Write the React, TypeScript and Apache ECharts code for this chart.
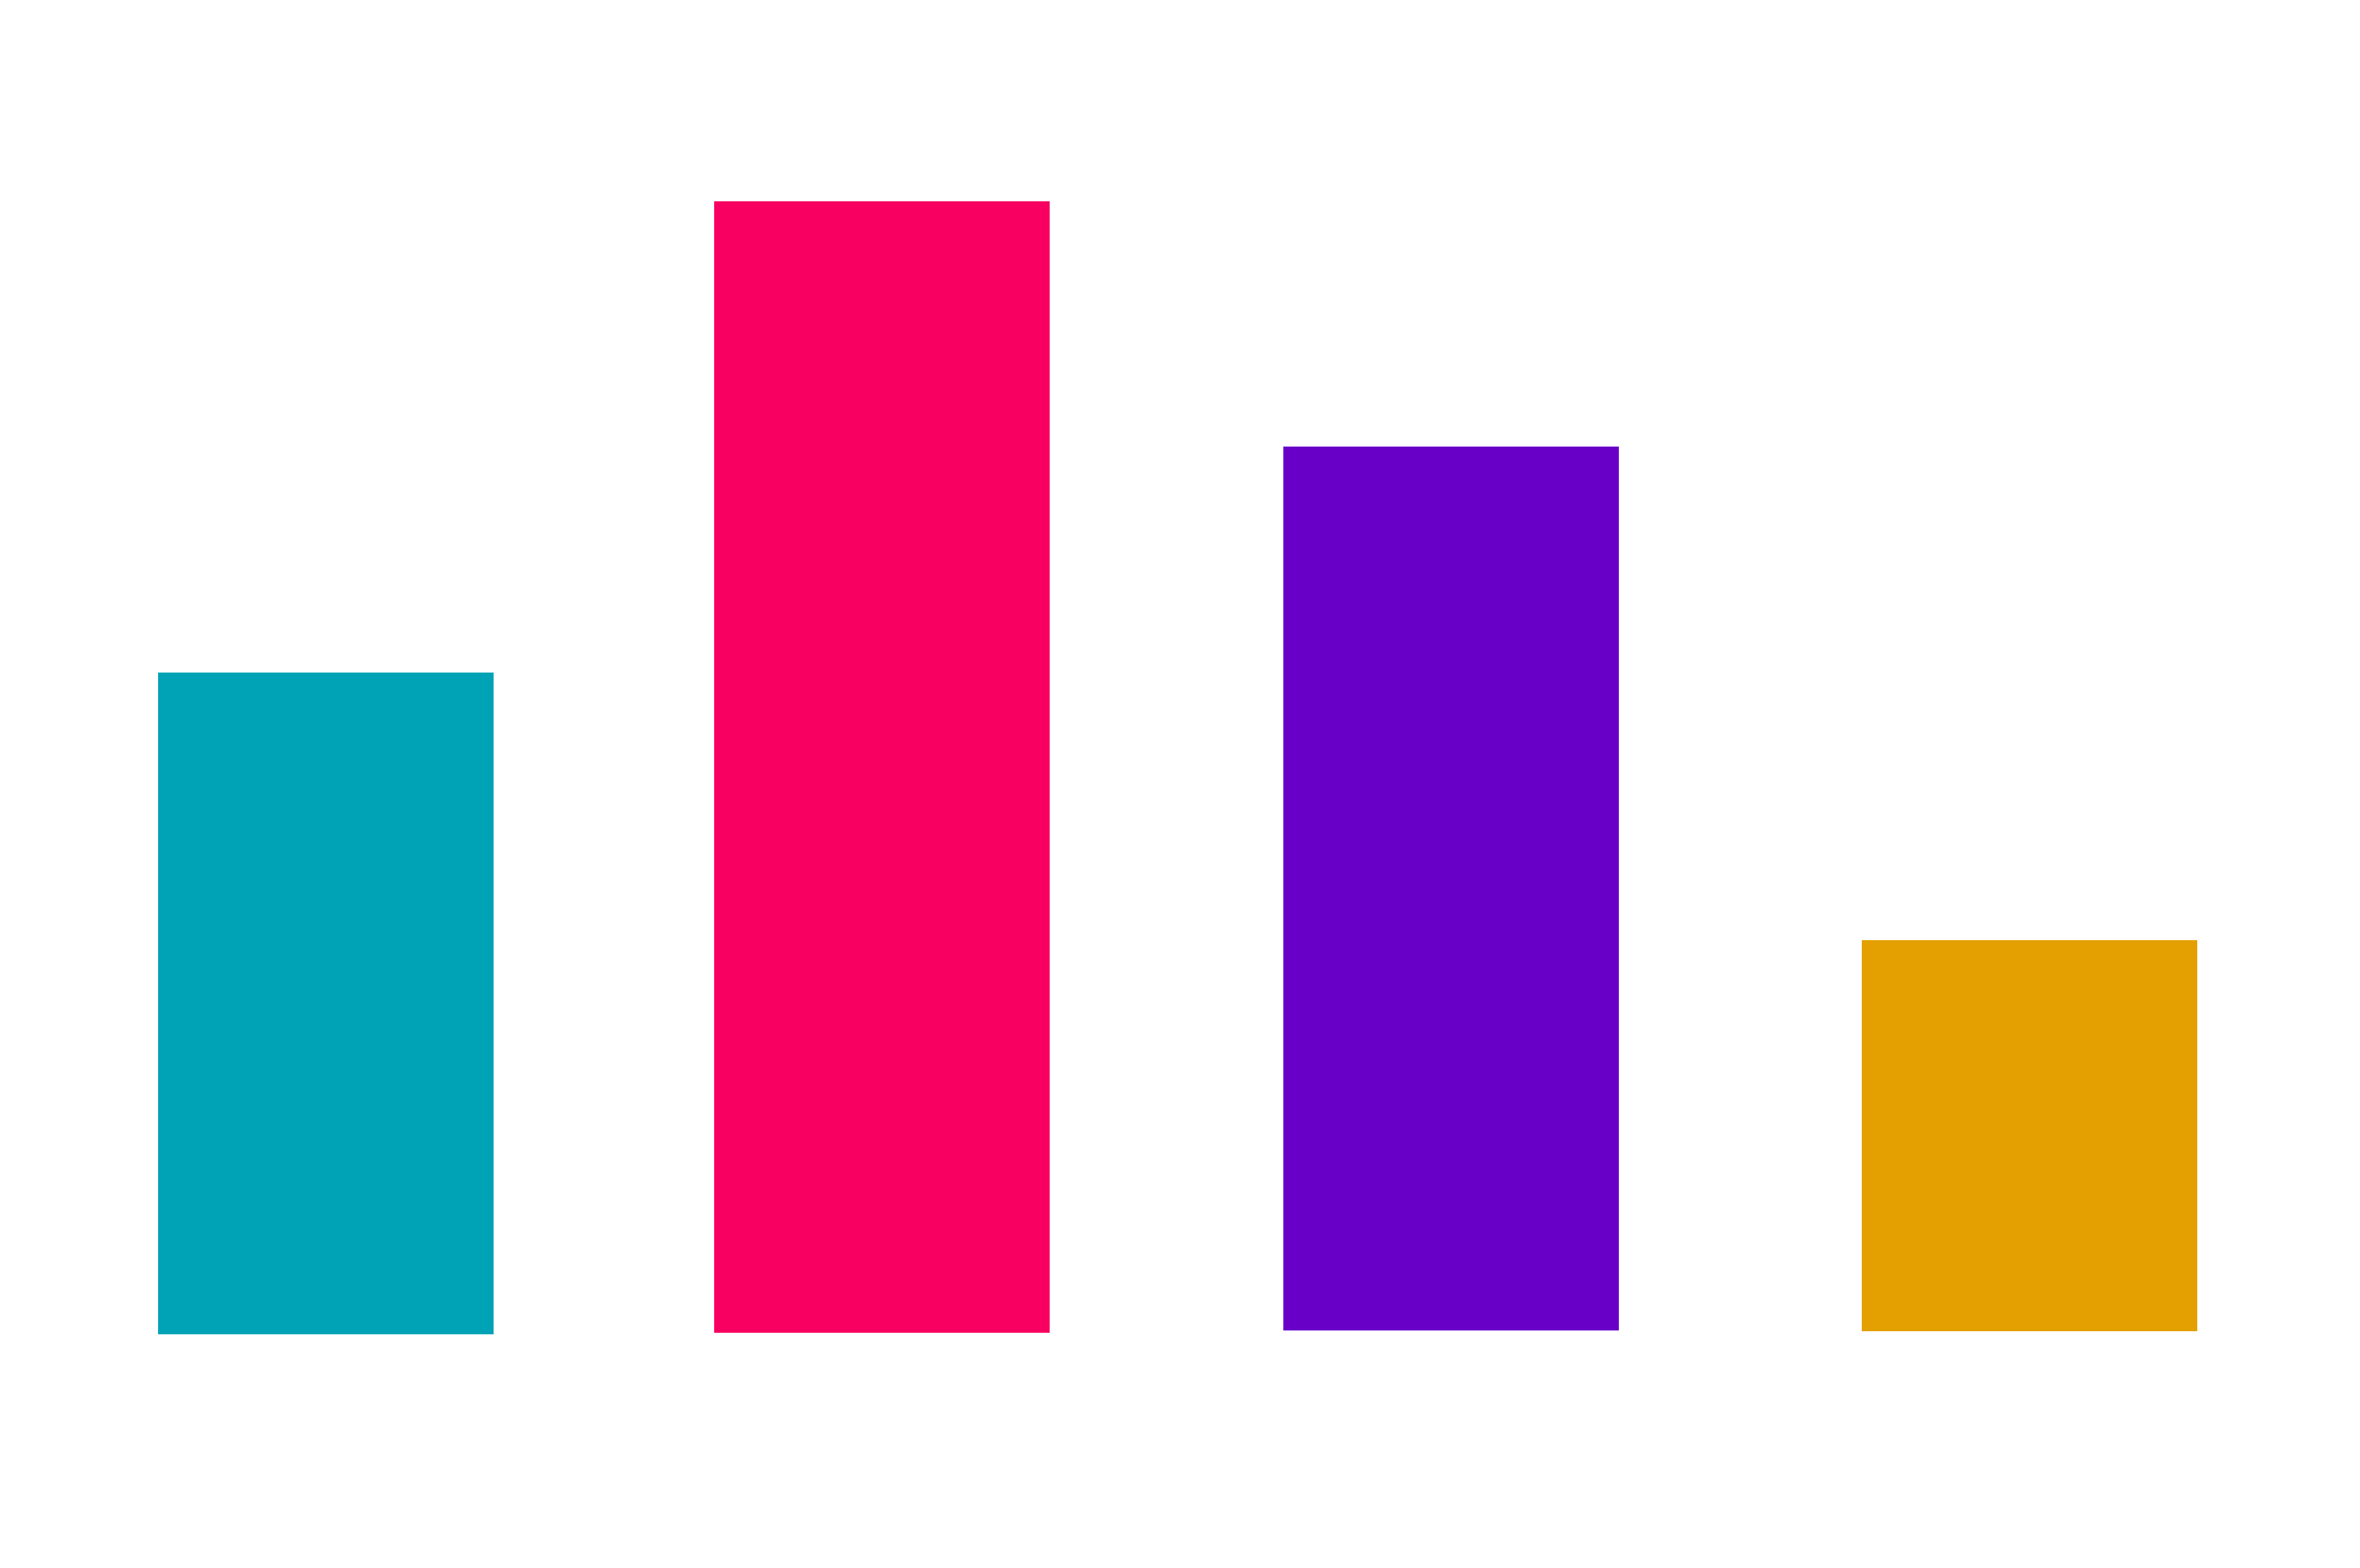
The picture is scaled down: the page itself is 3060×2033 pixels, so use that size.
import React, { useEffect, useRef } from "react";
import * as echarts from "echarts";

const categories = ["A", "B", "C", "D"];
const positions = [414.5, 1135.5, 1873.5, 2623.5];
const values = [855, 1466, 1148, 508];
const bases = [-3, -1, 2, 1];
const barWidths = [435, 435, 435, 435];
const colors = ["#00A3B5", "#F70061", "#6900C8", "#E3A000"];

export default function App() {
  const ref = useRef<HTMLDivElement>(null);
  useEffect(() => {
    if (!ref.current) return;
    const chart = echarts.init(ref.current, null, { renderer: "svg" });
    const data = categories.map((name, i) => ({
      name,
      value: [positions[i], bases[i], values[i], barWidths[i]],
    }));
    chart.setOption({
      animation: false,
      backgroundColor: "#ffffff",
      grid: { left: 0, right: 0, top: 219, bottom: 298 },
      xAxis: { type: "value", min: 0, max: 3044, show: false },
      yAxis: { type: "value", min: 0, max: 1500, show: false },
      series: [
        {
          type: "custom",
          clip: false,
          data,
          renderItem: (params: any, api: any) => {
            const c = api.value(0);
            const b = api.value(1);
            const t = api.value(2);
            const w = api.value(3);
            const p1 = api.coord([c - w / 2, t]);
            const p2 = api.coord([c + w / 2, b]);
            return {
              type: "rect",
              shape: { x: p1[0], y: p1[1], width: p2[0] - p1[0], height: p2[1] - p1[1] },
              style: { fill: colors[params.dataIndex] },
            };
          },
        },
      ],
    });
    return () => chart.dispose();
  }, []);
  return <div ref={ref} style={{ width: 3044, height: 2017 }} />;
}
